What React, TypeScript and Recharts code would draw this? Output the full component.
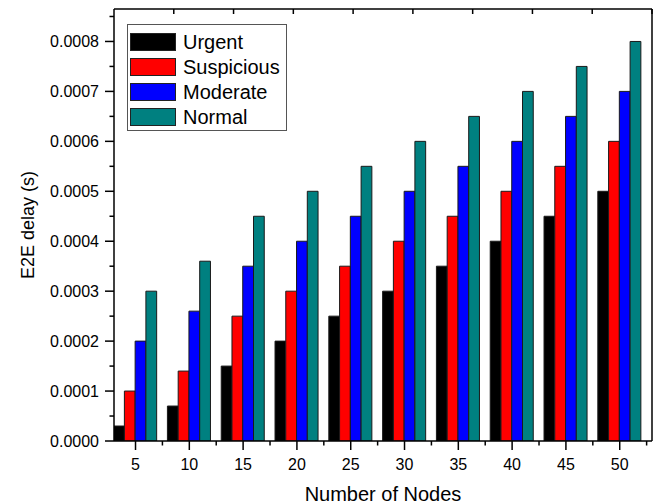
import { BarChart, Bar, XAxis, YAxis, Legend, Label } from "recharts";

const nodes = [5, 10, 15, 20, 25, 30, 35, 40, 45, 50];
const urgent = [0.00003, 0.00007, 0.00015, 0.0002, 0.00025, 0.0003, 0.00035, 0.0004, 0.00045, 0.0005];
const suspicious = [0.0001, 0.00014, 0.00025, 0.0003, 0.00035, 0.0004, 0.00045, 0.0005, 0.00055, 0.0006];
const moderate = [0.0002, 0.00026, 0.00035, 0.0004, 0.00045, 0.0005, 0.00055, 0.0006, 0.00065, 0.0007];
const normal = [0.0003, 0.00036, 0.00045, 0.0005, 0.00055, 0.0006, 0.00065, 0.0007, 0.00075, 0.0008];

const seriesKeys = ["urgent", "suspicious", "moderate", "normal"];
const seriesNames = ["Urgent", "Suspicious", "Moderate", "Normal"];
const seriesColors = ["#000000", "#ff0000", "#0000ff", "#008080"];

const yTicks = [0, 0.0001, 0.0002, 0.0003, 0.0004, 0.0005, 0.0006, 0.0007, 0.0008];
const frameTicks = [1, 2, 3, 4, 5, 6, 7, 8, 9];

const FONT = '"Liberation Sans", Arial, sans-serif';

const data = nodes.map((n, i) => ({
  nodes: n,
  urgent: urgent[i],
  suspicious: suspicious[i],
  moderate: moderate[i],
  normal: normal[i],
}));

// major + minor ticks (minor ones halfway between)
const xMajor = new Set(nodes);
const xAllTicks = [...nodes, ...nodes.map(n => n + 2.5)].sort((a, b) => a - b);
const yMajor = new Set(yTicks);
const yAllTicks = [...yTicks, ...yTicks.map(v => v + 0.00005)].sort((a, b) => a - b);

function XTick(props: any) {
  const { x, y, payload } = props;
  const major = xMajor.has(payload.value);
  return (
    <g>
      <line x1={x} x2={x} y1={y} y2={y + (major ? 9 : 4.5)} stroke="#000" strokeWidth={1.5} />
      {major && (
        <text x={x} y={y + 28.5} textAnchor="middle" fontSize={16} fontFamily={FONT} fill="#000">
          {payload.value}
        </text>
      )}
    </g>
  );
}

function YTick(props: any) {
  const { x, y, payload } = props;
  const major = yMajor.has(payload.value);
  return (
    <g>
      <line x1={x - (major ? 9 : 4.5)} x2={x} y1={y} y2={y} stroke="#000" strokeWidth={1.5} />
      {major && (
        <text x={x - 15} y={y} dy="0.36em" textAnchor="end" fontSize={16} fontFamily={FONT} fill="#000">
          {payload.value.toFixed(4)}
        </text>
      )}
    </g>
  );
}

function LegendBox() {
  return (
    <div
      style={{
        border: "1px solid #555",
        background: "#fff",
        width: 156,
        padding: "4px 0 1px 2px",
        fontFamily: FONT,
      }}
    >
      {seriesNames.map((name, i) => (
        <div key={name} style={{ display: "flex", alignItems: "center", height: 25 }}>
          <div
            style={{
              width: 44,
              height: 16,
              background: seriesColors[i],
              border: "1px solid #222",
              marginRight: 7,
            }}
          />
          <span style={{ fontSize: 20, color: "#000", lineHeight: "20px" }}>{name}</span>
        </div>
      ))}
    </div>
  );
}

export default function App() {
  return (
    <div style={{ position: "absolute", left: 0, top: 0, background: "#fff" }}>
      <BarChart
        width={666}
        height={504}
        data={data}
        margin={{ top: 9, right: 14, bottom: 0, left: 0 }}
        barGap={0}
      >
        <XAxis
          dataKey="nodes"
          type="number"
          domain={[3, 53]}
          allowDataOverflow
          ticks={xAllTicks}
          interval={0}
          tickSize={0}
          tickMargin={0}
          tickLine={false}
          tick={<XTick />}
          height={63}
          axisLine={{ stroke: "#000", strokeWidth: 1.5 }}
        >
          <Label
            content={({ viewBox }: any) => (
              <text
                x={viewBox.x + viewBox.width / 2}
                y={viewBox.y + 60}
                textAnchor="middle"
                fontSize={20}
                fontFamily={FONT}
                fill="#000"
              >
                Number of Nodes
              </text>
            )}
          />
        </XAxis>
        <XAxis
          xAxisId="top"
          orientation="top"
          type="number"
          domain={[0, 10]}
          ticks={frameTicks}
          mirror
          tickSize={5}
          tickFormatter={() => ""}
          tickLine={{ stroke: "#000", strokeWidth: 1.5 }}
          axisLine={{ stroke: "#000", strokeWidth: 1.5 }}
        />
        <YAxis
          type="number"
          domain={[0, 0.000865]}
          allowDataOverflow
          ticks={yAllTicks}
          interval={0}
          width={114}
          tickSize={0}
          tickMargin={0}
          tickLine={false}
          tick={<YTick />}
          axisLine={{ stroke: "#000", strokeWidth: 1.5 }}
        >
          <Label
            content={({ viewBox }: any) => {
              const cx = viewBox.x + 34;
              const cy = viewBox.y + viewBox.height / 2;
              return (
                <text
                  x={cx}
                  y={cy}
                  transform={`rotate(-90 ${cx} ${cy})`}
                  textAnchor="middle"
                  fontSize={18}
                  fontFamily={FONT}
                  fill="#000"
                >
                  E2E delay (s)
                </text>
              );
            }}
          />
        </YAxis>
        <YAxis
          yAxisId="right"
          orientation="right"
          type="number"
          domain={[0, 10]}
          ticks={frameTicks}
          mirror
          width={5}
          tickSize={5}
          tickFormatter={() => ""}
          tickLine={{ stroke: "#000", strokeWidth: 1.5 }}
          axisLine={{ stroke: "#000", strokeWidth: 1.5 }}
        />
        <Legend
          layout="vertical"
          align="center"
          verticalAlign="middle"
          content={<LegendBox />}
          wrapperStyle={{ left: 127, top: 24, width: "auto" }}
        />
        {seriesKeys.map((k, i) => (
          <Bar
            key={k}
            dataKey={k}
            name={seriesNames[i]}
            fill={seriesColors[i]}
            stroke="#1a1a1a"
            strokeWidth={1}
            barSize={10.76}
            isAnimationActive={false}
          />
        ))}
      </BarChart>
    </div>
  );
}
